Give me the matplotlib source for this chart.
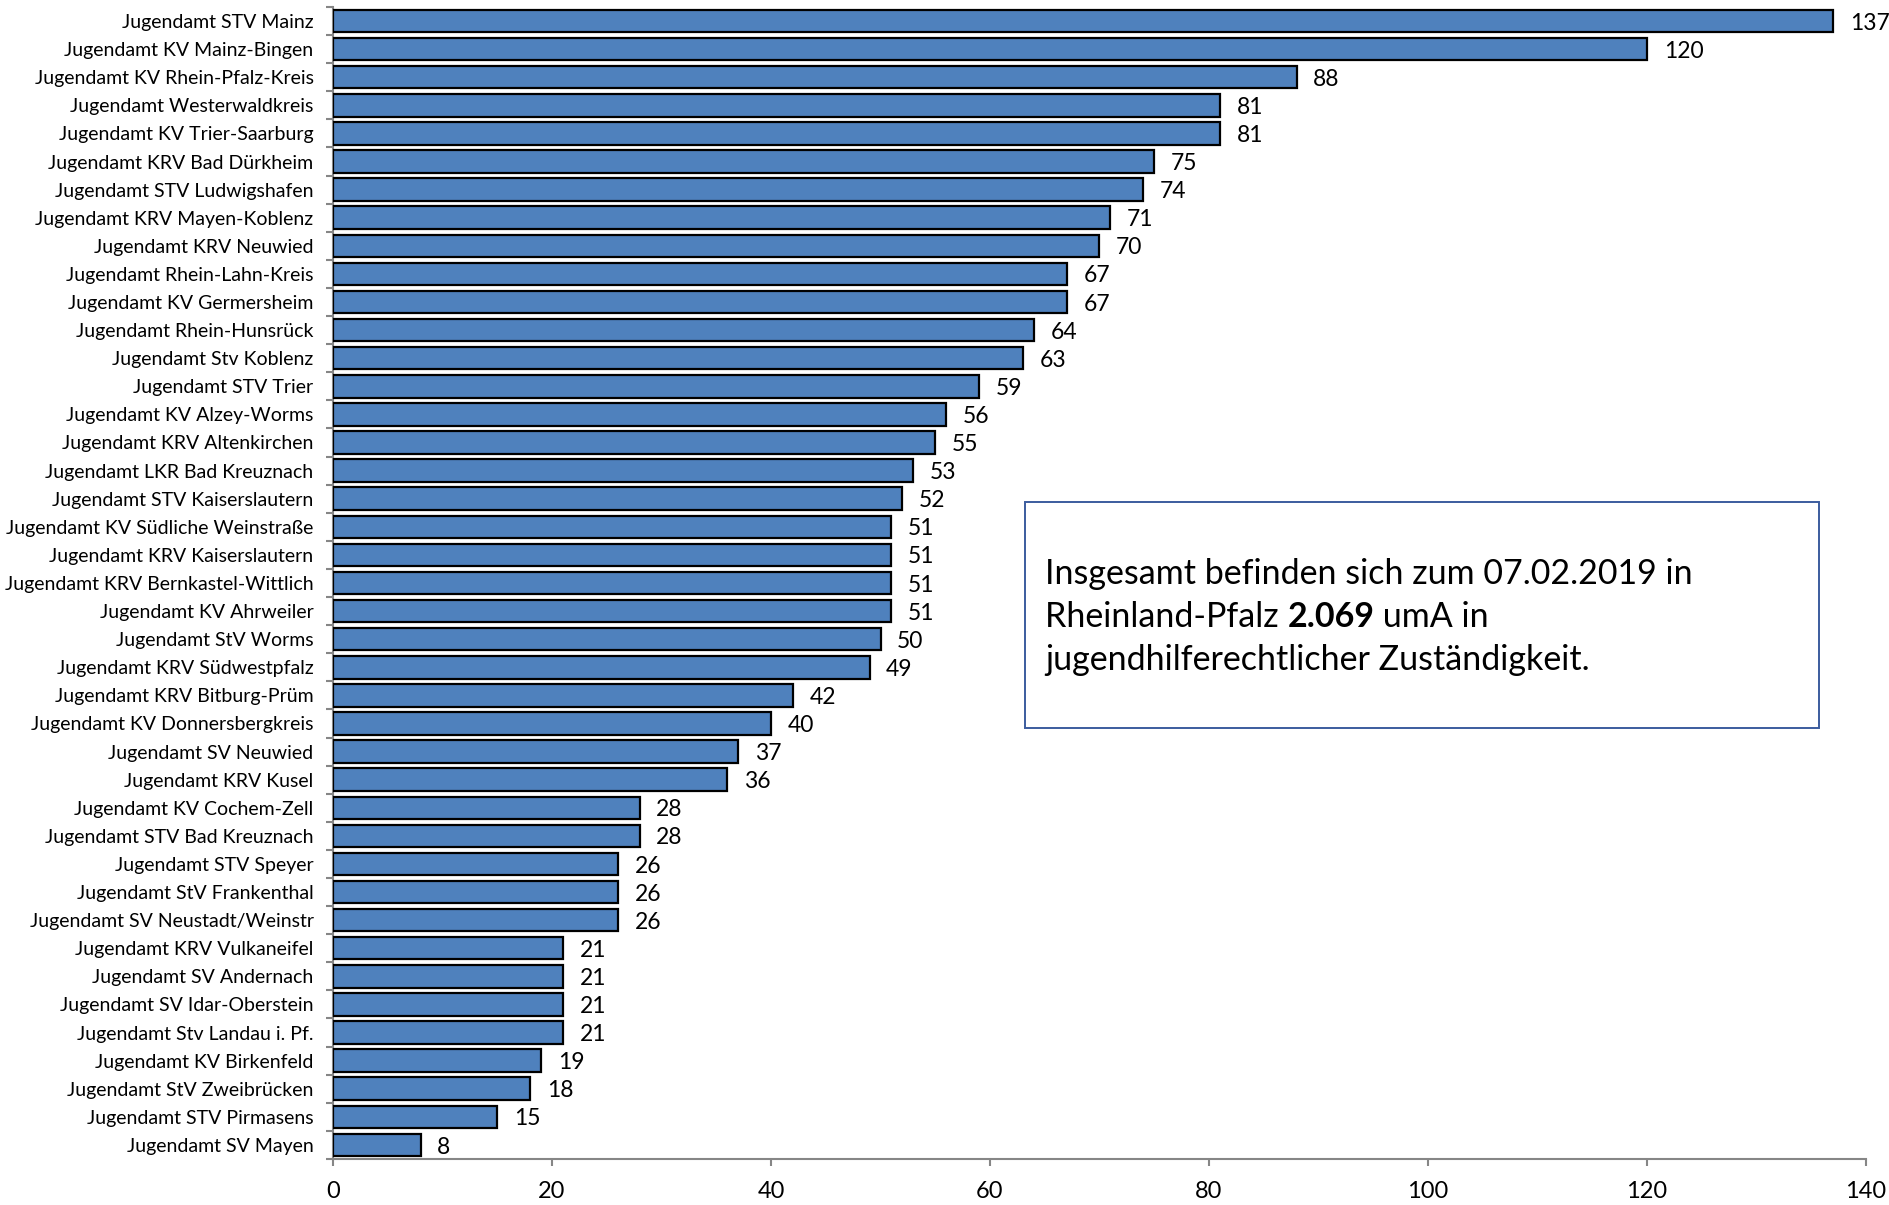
import matplotlib
matplotlib.use("Agg")
import matplotlib.pyplot as plt
from matplotlib.patches import Rectangle
from matplotlib.text import Annotation
import numpy as np

plt.rcParams['font.family'] = ['Lato', 'DejaVu Sans']

# Jugendämter, top to bottom as in the chart
names = [
    "Jugendamt STV Mainz", "Jugendamt KV Mainz-Bingen", "Jugendamt KV Rhein-Pfalz-Kreis",
    "Jugendamt Westerwaldkreis", "Jugendamt KV Trier-Saarburg", "Jugendamt KRV Bad Dürkheim",
    "Jugendamt STV Ludwigshafen", "Jugendamt KRV Mayen-Koblenz", "Jugendamt KRV Neuwied",
    "Jugendamt Rhein-Lahn-Kreis", "Jugendamt KV Germersheim", "Jugendamt Rhein-Hunsrück",
    "Jugendamt Stv Koblenz", "Jugendamt STV Trier", "Jugendamt KV Alzey-Worms",
    "Jugendamt KRV Altenkirchen", "Jugendamt LKR Bad Kreuznach", "Jugendamt STV Kaiserslautern",
    "Jugendamt KV Südliche Weinstraße", "Jugendamt KRV Kaiserslautern",
    "Jugendamt KRV Bernkastel-Wittlich", "Jugendamt KV Ahrweiler", "Jugendamt StV Worms",
    "Jugendamt KRV Südwestpfalz", "Jugendamt KRV Bitburg-Prüm", "Jugendamt KV Donnersbergkreis",
    "Jugendamt SV Neuwied", "Jugendamt KRV Kusel", "Jugendamt KV Cochem-Zell",
    "Jugendamt STV Bad Kreuznach", "Jugendamt STV Speyer", "Jugendamt StV Frankenthal",
    "Jugendamt SV Neustadt/Weinstr", "Jugendamt KRV Vulkaneifel", "Jugendamt SV Andernach",
    "Jugendamt SV Idar-Oberstein", "Jugendamt Stv Landau i. Pf.", "Jugendamt KV Birkenfeld",
    "Jugendamt StV Zweibrücken", "Jugendamt STV Pirmasens", "Jugendamt SV Mayen",
]
counts = [137, 120, 88, 81, 81, 75, 74, 71, 70, 67, 67, 64, 63, 59, 56, 55, 53, 52,
          51, 51, 51, 51, 50, 49, 42, 40, 37, 36, 28, 28, 26, 26, 26, 21, 21, 21, 21,
          19, 18, 15, 8]
x_ticks = [0, 20, 40, 60, 80, 100, 120, 140]

BAR_BLUE = "#4F81BD"
AXIS_GREY = "#868686"

fig = plt.figure(figsize=(18.89, 12.05), dpi=100)
ax = fig.add_axes([0.1763, 0.0382, 0.8115, 0.956])

pos = np.arange(len(names))
ax.barh(pos, counts, height=0.8, color=BAR_BLUE, edgecolor="black", linewidth=1.6, zorder=3)

for p, v in zip(pos, counts):
    ax.annotate(str(v), xy=(v, p), xytext=(12, -1.5), textcoords="offset points",
                va="center", ha="left", fontsize=16.5)

ax.set_ylim(len(names) - 0.5, -0.5)
ax.set_xlim(0, 140)
ax.set_xticks(x_ticks)
ax.set_yticks(pos)
ax.set_yticklabels(names, fontsize=14)
ax.set_yticks(np.arange(-0.5, len(names), 1.0), minor=True)
ax.tick_params(axis="y", which="major", length=0, pad=14)
ax.tick_params(axis="y", which="minor", length=5, width=1.5, color=AXIS_GREY, direction="out")
ax.tick_params(axis="x", which="major", length=5, width=1.5, color=AXIS_GREY,
               direction="out", labelsize=17, pad=11)

for side in ("top", "right"):
    ax.spines[side].set_visible(False)
for side in ("left", "bottom"):
    ax.spines[side].set_color(AXIS_GREY)
    ax.spines[side].set_linewidth(1.5)

# info box with the total
fig.add_artist(Rectangle((0.5426, 0.3959), 0.4204, 0.1875, transform=fig.transFigure,
                         facecolor="white", edgecolor="#3B5C9E", linewidth=1.4, zorder=5))
fs = 24.5
fig.text(0.5532, 0.5154, "Insgesamt befinden sich zum 07.02.2019 in",
         fontsize=fs, va="baseline", ha="left", zorder=6)
line2a = fig.text(0.5532, 0.4797, "Rheinland-Pfalz ", fontsize=fs, va="baseline",
                  ha="left", zorder=6)
line2b = Annotation("2.069", xy=(1, 0), xycoords=line2a, va="bottom", ha="left",
                    fontsize=fs, fontweight="bold", zorder=6)
fig.add_artist(line2b)
line2c = Annotation(" umA in", xy=(1, 0), xycoords=line2b, va="bottom", ha="left",
                    fontsize=fs, zorder=6)
fig.add_artist(line2c)
fig.text(0.5532, 0.4440, "jugendhilferechtlicher Zuständigkeit.",
         fontsize=fs, va="baseline", ha="left", zorder=6)

fig.savefig("out.png", dpi=100, facecolor="white")
